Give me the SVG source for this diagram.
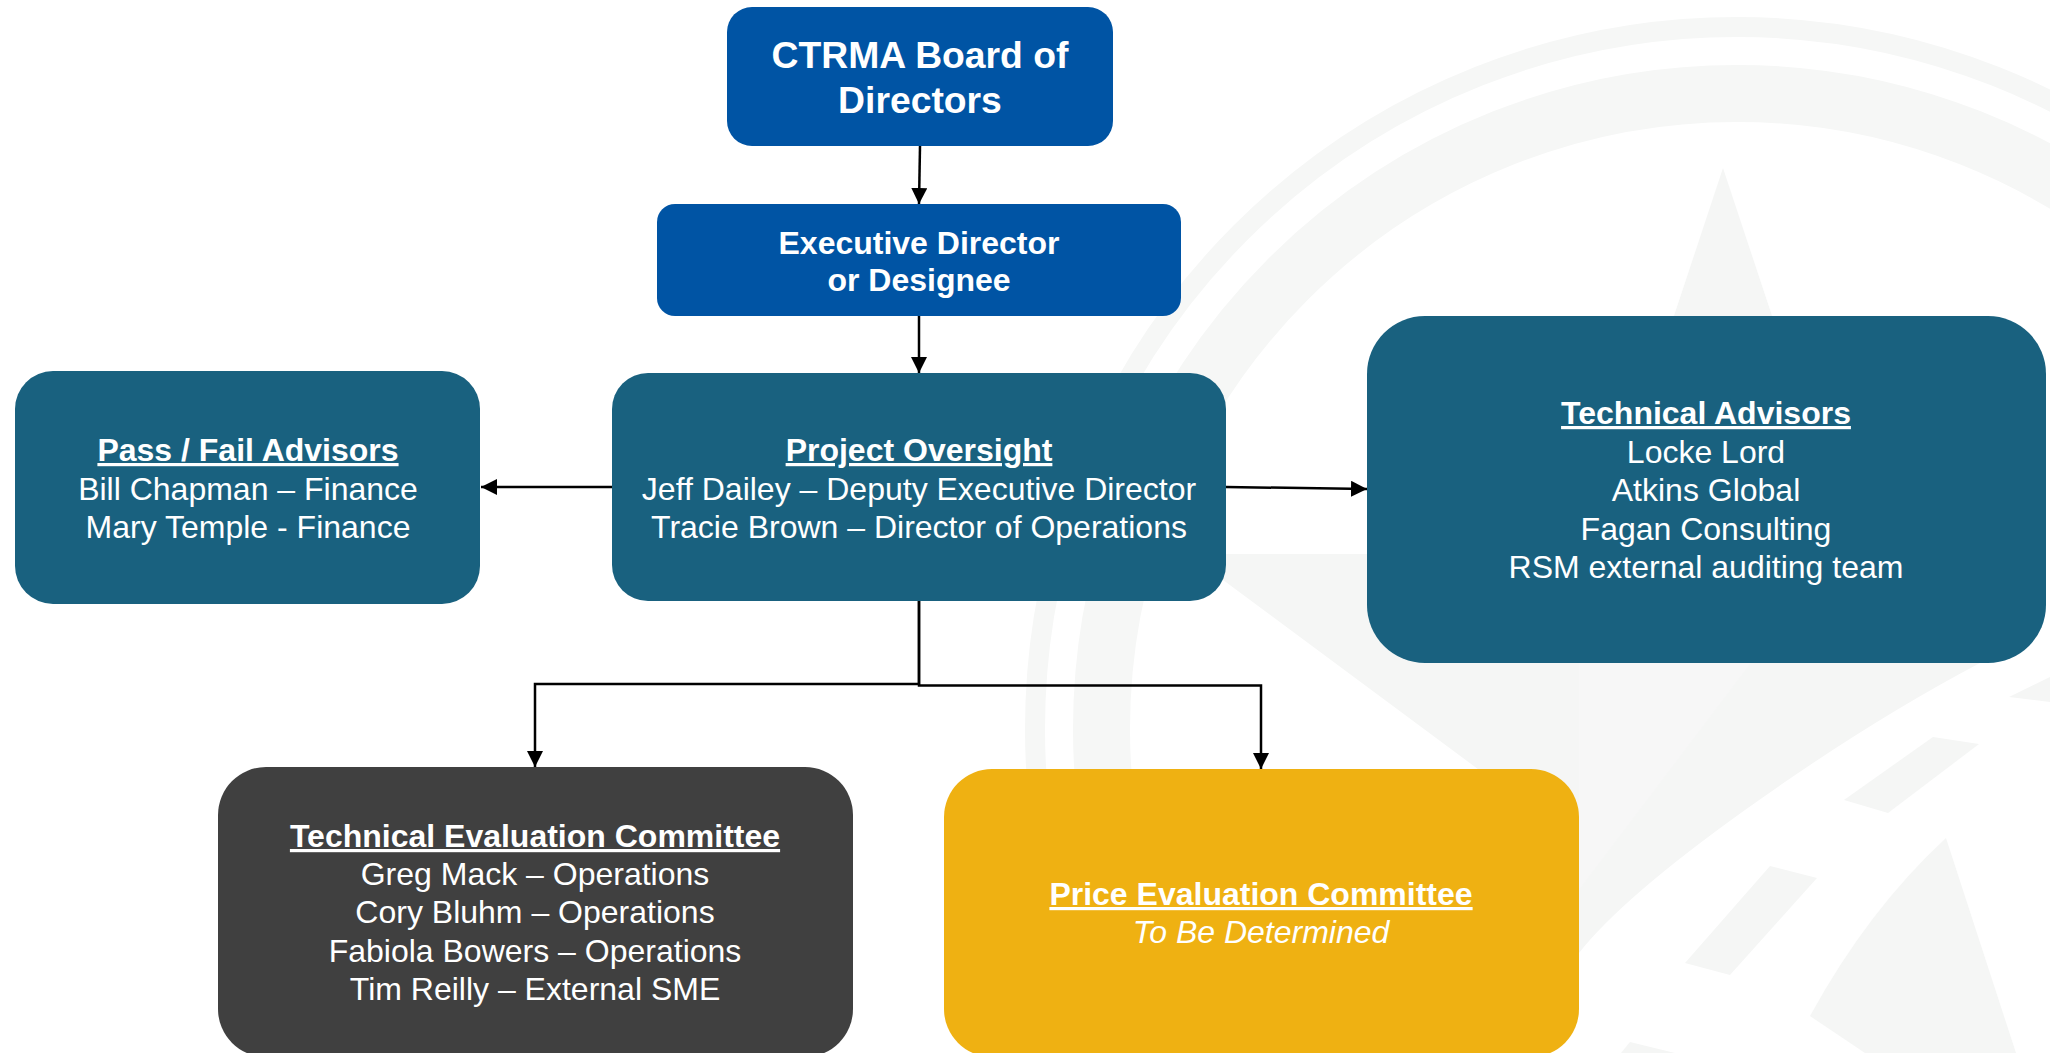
<svg xmlns="http://www.w3.org/2000/svg" width="2050" height="1053" viewBox="0 0 2050 1053">
<defs>
<marker id="ah" markerUnits="userSpaceOnUse" markerWidth="17" markerHeight="18" refX="16" refY="8" orient="auto"><path d="M0 0L16 8L0 16Z" fill="#000"/></marker>
</defs>
<style>
text{font-family:"Liberation Sans",Arial,sans-serif;fill:#fff;text-anchor:middle;font-size:32px}
.h{font-weight:700;text-decoration:underline}
.b{font-weight:700}
.t{font-weight:700;font-size:37.3px}
.wm{fill:#f5f6f5}
.ring{fill:none;stroke:#f6f7f6}
.c{fill:none;stroke:#000;stroke-width:2.5}
</style>
<rect width="2050" height="1053" fill="#fff"/>
<g id="watermark">
<circle class="ring" cx="1737" cy="729" r="702" stroke-width="20"/>
<circle class="ring" cx="1737" cy="729" r="635.5" stroke-width="57"/>
<path class="wm" d="M1723 168L1780 340H1666Z"/>
<path class="wm" d="M1188 554H1985L1980 663Q1868 722 1745 810T1579 953V1000L1490 778Z"/>
<path fill="#f7f7f7" d="M1579 663H1751L1579 890Z"/>
<path class="wm" d="M1933 737L1979 744L1888 813L1844 800Z"/>
<path class="wm" d="M1770 866L1817 878L1730 975L1685 963Z"/>
<path class="wm" d="M2009 697L2050 677V702Z"/>
<path class="wm" d="M1946 838Q1868 910 1810 1016L1865 1053H2016Z"/>
<path class="wm" d="M1630 1042L1675 1053H1621Z"/>
</g>
<g id="connectors">
<path class="c" marker-end="url(#ah)" d="M920 146L919 204"/>
<path class="c" marker-end="url(#ah)" d="M919 316V373"/>
<path class="c" marker-end="url(#ah)" d="M613 487H481"/>
<path class="c" marker-end="url(#ah)" d="M1226 487L1367 489"/>
<path class="c" marker-end="url(#ah)" d="M919 601V684H535V767"/>
<path class="c" marker-end="url(#ah)" d="M919 601V685.5H1261V769"/>
</g>
<g id="board"><rect x="727" y="7" width="386" height="139" rx="25" fill="#0054a4"/>
<text class="t" x="920" y="68">CTRMA Board of</text><text class="t" x="920" y="113">Directors</text></g>
<g id="executive"><rect x="657" y="204" width="524" height="112" rx="18" fill="#0054a4"/>
<text class="b" x="919" y="254">Executive Director</text><text class="b" x="919" y="291">or Designee</text></g>
<g id="oversight"><rect x="612" y="373" width="614" height="228" rx="36" fill="#19617f"/>
<text class="h" x="919" y="461">Project Oversight</text><text x="919" y="500">Jeff Dailey – Deputy Executive Director</text><text x="919" y="538">Tracie Brown – Director of Operations</text></g>
<g id="passfail"><rect x="15" y="371" width="465" height="233" rx="38" fill="#19617f"/>
<text class="h" x="248" y="461">Pass / Fail Advisors</text><text x="248" y="500">Bill Chapman – Finance</text><text x="248" y="538">Mary Temple - Finance</text></g>
<g id="technical-advisors"><rect x="1367" y="316" width="679" height="347" rx="58" fill="#19617f"/>
<text class="h" x="1706" y="424">Technical Advisors</text><text x="1706" y="463">Locke Lord</text><text x="1706" y="501">Atkins Global</text><text x="1706" y="540">Fagan Consulting</text><text x="1706" y="578">RSM external auditing team</text></g>
<g id="tec"><rect x="218" y="767" width="635" height="290" rx="48" fill="#404040"/>
<text class="h" x="535" y="847">Technical Evaluation Committee</text><text x="535" y="885">Greg Mack – Operations</text><text x="535" y="923">Cory Bluhm – Operations</text><text x="535" y="962">Fabiola Bowers – Operations</text><text x="535" y="1000">Tim Reilly – External SME</text></g>
<g id="pec"><rect x="944" y="769" width="635" height="288" rx="48" fill="#efb112"/>
<text class="h" x="1261" y="905">Price Evaluation Committee</text><text style="font-style:italic" x="1261" y="943">To Be Determined</text></g>
</svg>
